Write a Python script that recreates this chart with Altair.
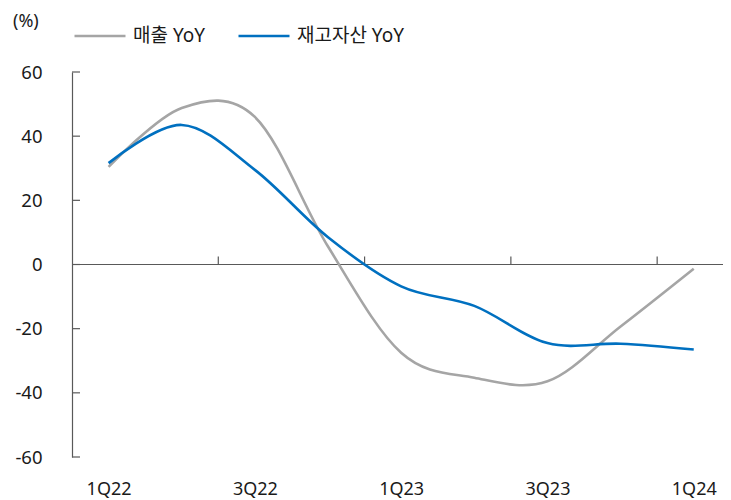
import json
import altair as alt
import pandas as pd

# ---- data ----
quarters = ["1Q22", "2Q22", "3Q22", "4Q22", "1Q23", "2Q23", "3Q23", "4Q23", "1Q24"]
sales_yoy = [30.4, 48.8, 46.0, 5.6, -27.5, -35.3, -36.4, -19.3, -1.3]
inventory_yoy = [31.6, 43.5, 29.5, 8.5, -6.8, -12.9, -24.5, -24.7, -26.5]
series_names = ["매출 YoY", "재고자산 YoY"]
series_colors = ["#a5a5a5", "#0070c0"]
y_ticks = [60, 40, 20, 0, -20, -40, -60]
x_label_index = [0, 2, 4, 6, 8]
y_unit = "(%)"

rows = []
for name, vals in zip(series_names, [sales_yoy, inventory_yoy]):
    for i, (q, v) in enumerate(zip(quarters, vals)):
        rows.append({"idx": i, "quarter": q, "series": name, "value": v})
df = pd.DataFrame(rows)

# boundaries between categories where the x ticks sit
tick_bounds = pd.DataFrame({"b": [i - 0.5 for i in x_label_index[1:]]})
ytick_df = pd.DataFrame({"v": y_ticks})
zero_df = pd.DataFrame({"v": [0]})
unit_df = pd.DataFrame({"t": [y_unit]})

FONT = "Noto Sans, Noto Sans CJK KR"
TXT = "#1a1a1a"
AX = "#595959"
W, H = 651, 385

x_scale = alt.Scale(domain=[-0.5, 8.4], nice=False, zero=False)
y_scale = alt.Scale(domain=[-60, 60], nice=False)

label_expr = json.dumps(quarters) + "[datum.value]"

lines = alt.Chart(df).mark_line(interpolate="cardinal", strokeWidth=2.6).encode(
    x=alt.X("idx:Q", scale=x_scale,
            axis=alt.Axis(values=x_label_index, labelExpr=label_expr, domain=False,
                          ticks=False, grid=False, title=None, labelFontSize=18,
                          labelPadding=23, labelColor=TXT, labelFont=FONT)),
    y=alt.Y("value:Q", scale=y_scale,
            axis=alt.Axis(values=y_ticks, labelExpr="'' + datum.value", ticks=False,
                          grid=False, domainColor=AX, domainWidth=1.2, labelPadding=30,
                          labelFontSize=18.5, labelColor=TXT, labelFont=FONT, title=None)),
    color=alt.Color("series:N",
                    scale=alt.Scale(domain=series_names, range=series_colors),
                    legend=alt.Legend(orient="none", legendX=1, legendY=-63,
                                      direction="horizontal", title=None,
                                      symbolType="stroke", symbolSize=2601,
                                      symbolStrokeWidth=2.6, labelFontSize=19,
                                      labelFont=FONT, labelColor=TXT,
                                      labelOffset=6, columnPadding=28, padding=0)),
    detail="series:N",
)

zero_line = alt.Chart(zero_df).mark_rule(color=AX, strokeWidth=1.2).encode(
    y=alt.Y("v:Q", scale=y_scale), x=alt.value(0), x2=alt.value(W)
)

x_ticks = alt.Chart(tick_bounds).transform_calculate(top="2.5", base="0").mark_rule(
    color=AX, strokeWidth=1.2
).encode(
    x=alt.X("b:Q", scale=x_scale),
    y=alt.Y("base:Q", scale=y_scale),
    y2="top:Q",
)

y_tick_marks = alt.Chart(ytick_df).mark_rule(color=AX, strokeWidth=1.2).encode(
    y=alt.Y("v:Q", scale=y_scale), x=alt.value(0), x2=alt.value(8)
)

unit_text = alt.Chart(unit_df).mark_text(
    align="left", baseline="middle", fontSize=18, font=FONT, color=TXT
).encode(text="t:N", x=alt.value(-59), y=alt.value(-50))

chart = alt.layer(zero_line, x_ticks, y_tick_marks, lines, unit_text).properties(
    width=W, height=H, autosize="none",
    padding={"left": 64, "top": 64, "right": 0, "bottom": 46},
).configure_view(stroke=None)

chart.save("out.html", embed_options={"renderer": "svg", "actions": False})
